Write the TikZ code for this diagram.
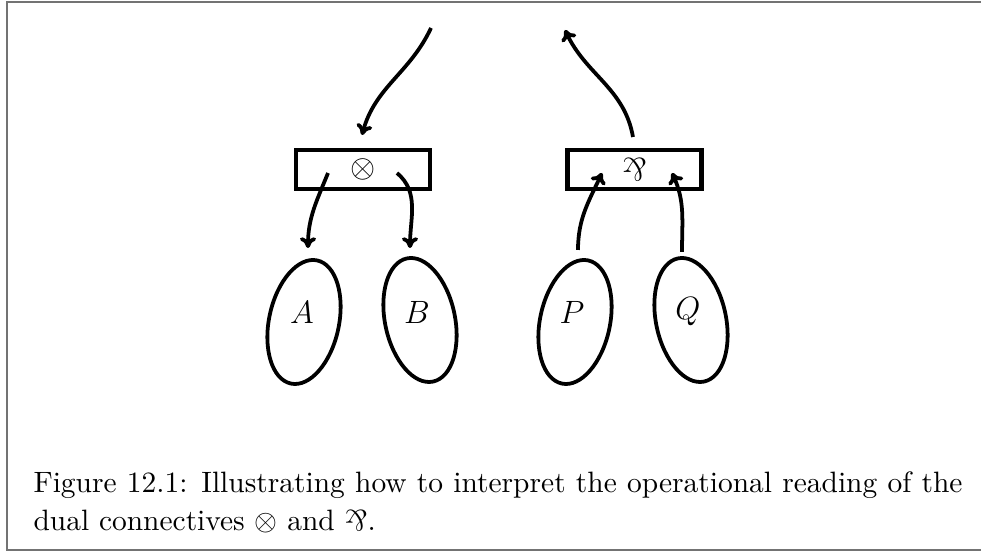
\documentclass[tikz,border=0pt]{standalone}
\usetikzlibrary{shapes.geometric,calc,arrows.meta}
\newcommand{\myparr}{\mathbin{\rotatebox[origin=c]{180}{$\&$}}}
\begin{document}
\begin{tikzpicture}[x=0.3717pt,y=0.3717pt,
        every node/.style={font=\fontsize{12.3}{14.5}\selectfont},
        opbox/.style={draw,line width=1.5pt,minimum width=49.8pt,minimum height=14.5pt,inner sep=0pt},
        blob/.style={draw,ellipse,line width=1.4pt,minimum width=26pt,minimum height=46.8pt,inner sep=0pt},
        conn/.style={line width=1.4pt,-{To[length=4pt,width=6pt]}}]
        \useasboundingbox (0,0) rectangle (981,551);
        \draw[black!55,line width=0.75pt] (981,549) -- (7,549) -- (7,1) -- (981,1);

        \node[opbox] (tens) at (363,381.5) {$\otimes$};
        \node[opbox] (parr) at (634.5,381.5) {$\myparr$};

        \node[blob,rotate=-12] (a) at (304,229) {};
        \node[blob,rotate=12] (b) at (420,231) {};
        \node[blob,rotate=-12] (p) at (575,229) {};
        \node[blob,rotate=12] (q) at (691,231) {};

        \node (la) at (302,239) {$A$};
        \node (lb) at (417,239) {$B$};
        \node (lp) at (572,239) {$P$};
        \node (lq) at (688,239) {$Q$};

        \coordinate (tensin) at (431,523);
        \coordinate (tensend) at ($(tens)+(-1,34.5)$);
        \coordinate (tensl) at ($(tens)+(-35,-3.5)$);
        \coordinate (tensr) at ($(tens)+(34,-3.5)$);
        \coordinate (parrout) at (565,521);
        \coordinate (parrstart) at ($(parr)+(-1.5,32.5)$);
        \coordinate (parrl) at ($(parr)+(-32.5,-3.5)$);
        \coordinate (parrr) at ($(parr)+(37.5,-3.5)$);
        \coordinate (atop) at ($(a)+(4,74)$);
        \coordinate (btop) at ($(b)+(-10,72)$);
        \coordinate (ptop) at ($(p)+(3,72)$);
        \coordinate (qtop) at ($(q)+(-9,68)$);

        \draw[conn] (tensin) to[out=-115,in=75] (tensend);
        \draw[conn] (parrstart) to[out=100,in=-65] (parrout);
        \draw[conn] (tensl) to[out=-112,in=90] (atop);
        \draw[conn] (tensr) to[out=-40,in=90] (btop);
        \draw[conn] (ptop) to[out=90,in=-115] (parrl);
        \draw[conn] (qtop) to[out=90,in=-65] (parrr);

        \node[anchor=north west,inner sep=0pt,text width=345.3pt,align=justify,
            font=\fontsize{10.95}{14.3}\selectfont] (cap) at (33,80) {Figure 12.1: Illustrating how to interpret the operational reading of the dual connectives $\otimes$ and $\myparr$.};
    \end{tikzpicture}
\end{document}
